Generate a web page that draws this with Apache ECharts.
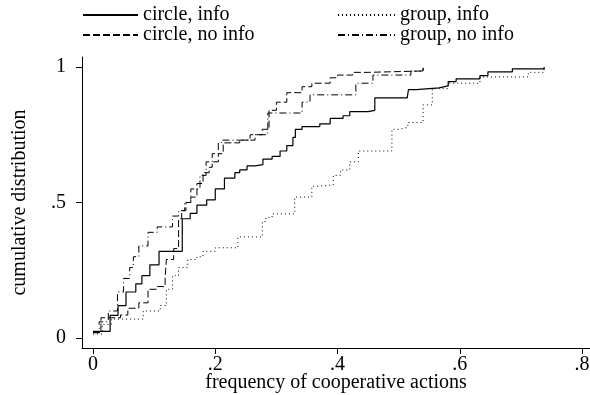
<!DOCTYPE html>
<html>
<head>
    <meta charset="utf-8">
    <title>cumulative distribution</title>
    <script src="https://cdn.jsdelivr.net/npm/echarts@6/dist/echarts.min.js"></script>
    <style>
        html, body { margin: 0; padding: 0; background: #fff; }
        #chart1 { width: 590px; height: 395px; }
    </style>
</head>
<body>
<div id="chart1"></div>
<script type="text/javascript">

    // [frequency, cumulative share], step jumps
    var circleInfo = [[0, 0.025], [0.028, 0.084], [0.041, 0.12], [0.054, 0.17], [0.07, 0.2], [0.08, 0.23],
        [0.093, 0.27], [0.108, 0.32], [0.146, 0.44], [0.159, 0.46], [0.17, 0.49], [0.186, 0.51], [0.2, 0.55],
        [0.215, 0.59], [0.232, 0.61], [0.24, 0.62], [0.252, 0.635], [0.265, 0.64], [0.278, 0.66], [0.293, 0.67],
        [0.306, 0.69], [0.317, 0.71], [0.327, 0.74], [0.331, 0.77], [0.342, 0.78], [0.371, 0.79], [0.388, 0.81],
        [0.409, 0.82], [0.42, 0.835], [0.45, 0.84], [0.461, 0.886], [0.514, 0.89], [0.516, 0.916], [0.529, 0.923],
        [0.566, 0.93], [0.581, 0.946], [0.594, 0.956], [0.633, 0.968], [0.646, 0.982], [0.686, 0.993], [0.738, 1.0]];

    var groupInfo = [[0, 0.015], [0.015, 0.05], [0.03, 0.07], [0.082, 0.1], [0.11, 0.12], [0.12, 0.18],
        [0.13, 0.23], [0.14, 0.26], [0.155, 0.29], [0.17, 0.3], [0.18, 0.32], [0.2, 0.333], [0.237, 0.373],
        [0.277, 0.43], [0.283, 0.445], [0.293, 0.458], [0.33, 0.52], [0.358, 0.56], [0.37, 0.565], [0.393, 0.6],
        [0.405, 0.62], [0.42, 0.65], [0.434, 0.69], [0.489, 0.77], [0.5, 0.777], [0.515, 0.795], [0.54, 0.86],
        [0.555, 0.92], [0.581, 0.94], [0.633, 0.963], [0.712, 0.98], [0.738, 1.0]];

    var circleNoInfo = [[0, 0.02], [0.013, 0.075], [0.045, 0.085], [0.057, 0.11], [0.075, 0.13], [0.09, 0.18],
        [0.105, 0.19], [0.118, 0.22], [0.12, 0.29], [0.132, 0.33], [0.14, 0.44], [0.145, 0.47], [0.152, 0.5],
        [0.16, 0.52], [0.17, 0.57], [0.18, 0.61], [0.19, 0.63], [0.195, 0.65], [0.205, 0.68], [0.213, 0.72],
        [0.24, 0.73], [0.257, 0.75], [0.277, 0.77], [0.288, 0.84], [0.3, 0.87], [0.317, 0.905], [0.342, 0.927],
        [0.358, 0.94], [0.388, 0.96], [0.4, 0.97], [0.425, 0.98], [0.45, 0.985], [0.54, 0.995]];

    var groupNoInfo = [[0, 0.02], [0.01, 0.06], [0.025, 0.1], [0.04, 0.17], [0.05, 0.22], [0.06, 0.26],
        [0.066, 0.3], [0.075, 0.34], [0.09, 0.39], [0.105, 0.41], [0.13, 0.45], [0.14, 0.47], [0.15, 0.5],
        [0.16, 0.55], [0.175, 0.6], [0.185, 0.65], [0.195, 0.68], [0.205, 0.72], [0.21, 0.73], [0.265, 0.75],
        [0.286, 0.83], [0.342, 0.87], [0.355, 0.897], [0.43, 0.94], [0.458, 0.97], [0.52, 0.985], [0.54, 1.0]];

    var xTicks = [0, 0.2, 0.4, 0.6, 0.8];
    var yTicks = [0, 0.5, 1];
    var seriesNames = ['circle, info', 'group, info', 'circle, no info', 'group, no info'];

    var font = 'Liberation Serif';
    var fs = 20;

    function shortLabel(v) {
        // Stata style: .2 instead of 0.2
        if (v === 0) return '0';
        if (v === 1) return '1';
        return String(v).replace(/^0/, '');
    }

    var myChart1 = echarts.init(document.getElementById('chart1'), null, {renderer: 'canvas'});

    myChart1.setOption({
        animation: false,
        backgroundColor: '#fff',
        textStyle: {fontFamily: font, color: '#000'},
        grid: {left: 82, right: 0, top: 57, bottom: 47, containLabel: false, outerBoundsMode: 'none'},
        legend: [{
            left: 82, top: 5, padding: 0, orient: 'vertical', itemWidth: 55, itemHeight: 10, itemGap: 0,
            itemStyle: {opacity: 0},
            textStyle: {fontFamily: font, fontSize: fs, color: '#000'},
            data: [seriesNames[0], seriesNames[2]]
        }, {
            left: 337, top: 5, padding: 0, orient: 'vertical', itemWidth: 57, itemHeight: 10, itemGap: 0,
            itemStyle: {opacity: 0},
            textStyle: {fontFamily: font, fontSize: fs, color: '#000'},
            data: [seriesNames[1], seriesNames[3]]
        }],
        xAxis: {
            type: 'value', min: -0.018, max: 0.813,
            name: 'frequency of cooperative actions', nameLocation: 'middle', nameGap: 25,
            nameMoveOverlap: false,
            nameTextStyle: {fontFamily: font, fontSize: fs, color: '#000'},
            axisLine: {onZero: false, lineStyle: {color: '#000', width: 1}},
            axisTick: {show: true, length: 6, customValues: xTicks, lineStyle: {color: '#000'}},
            axisLabel: {customValues: xTicks, formatter: shortLabel, fontFamily: font, fontSize: fs, color: '#000', margin: 7},
            splitLine: {show: false}
        },
        yAxis: {
            type: 'value', min: -0.0366, max: 1.0366,
            name: 'cumulative distribution', nameLocation: 'middle', nameGap: 52,
            nameMoveOverlap: false,
            nameTextStyle: {fontFamily: font, fontSize: fs, color: '#000'},
            axisLine: {show: true, onZero: false, lineStyle: {color: '#000', width: 1}},
            axisTick: {show: true, length: 6, customValues: yTicks, lineStyle: {color: '#000'}},
            axisLabel: {customValues: yTicks, formatter: shortLabel, fontFamily: font, fontSize: fs, color: '#000', margin: 16},
            splitLine: {show: false}
        },
        series: [{
            name: seriesNames[0], type: 'line', step: 'end', symbol: 'none',
            data: circleInfo,
            lineStyle: {color: '#000', width: 1.2, type: 'solid'}, itemStyle: {color: '#000'}
        }, {
            name: seriesNames[1], type: 'line', step: 'end', symbol: 'none',
            data: groupInfo,
            lineStyle: {color: '#000', width: 1, type: [1, 3]}, itemStyle: {color: '#000'}
        }, {
            name: seriesNames[2], type: 'line', step: 'end', symbol: 'none',
            data: circleNoInfo,
            lineStyle: {color: '#000', width: 1, type: [7, 3]}, itemStyle: {color: '#000'}
        }, {
            name: seriesNames[3], type: 'line', step: 'end', symbol: 'none',
            data: groupNoInfo,
            lineStyle: {color: '#000', width: 1, type: [7, 3, 1, 3]}, itemStyle: {color: '#000'}
        }]
    });
</script>
</body>
</html>
